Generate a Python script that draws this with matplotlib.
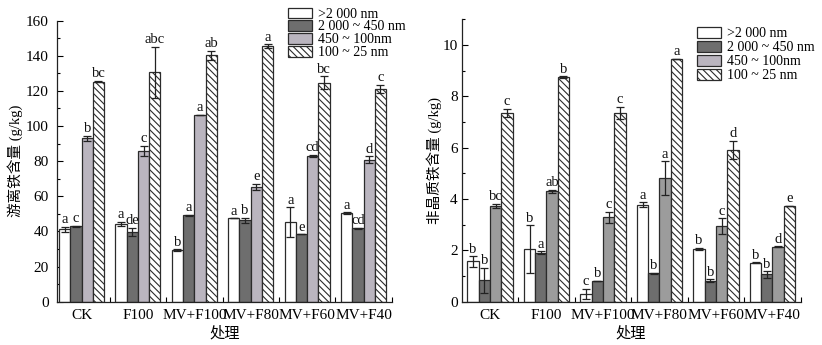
import numpy as np
import matplotlib
matplotlib.use("Agg")
import matplotlib.pyplot as plt
from matplotlib.patches import Patch
from matplotlib.ticker import MultipleLocator, FixedLocator

plt.rcParams['font.family'] = ['Liberation Serif', 'Noto Sans CJK SC', 'DejaVu Sans']
plt.rcParams['hatch.linewidth'] = 0.8
plt.rcParams['hatch.color'] = '#333333'

treatments = ['CK', 'F100', 'MV+F100', 'MV+F80', 'MV+F60', 'MV+F40']
fractions = ['>2 000 nm', '2 000 ~ 450 nm', '450 ~ 100nm', '100 ~ 25 nm']

# Free iron (g/kg): rows = size fraction, columns = treatment
free_mean = [
    [41.2, 44.2, 29.4, 47.5, 45.3, 50.4],
    [42.8, 39.8, 49.1, 46.4, 38.4, 41.9],
    [92.9, 85.8, 106.5, 65.2, 83.1, 80.9],
    [125.2, 130.5, 140.1, 145.4, 124.6, 121.1],
]
free_err = [
    [1.5, 1.3, 0.4, 0.0, 8.3, 0.5],
    [0.4, 2.2, 0.4, 1.5, 0.0, 0.3],
    [1.6, 3.0, 0.0, 1.8, 0.5, 1.8],
    [0.3, 14.6, 2.6, 1.0, 3.6, 2.4],
]
free_sig = [
    ['a', 'a', 'b', 'a', 'a', 'a'],
    ['c', 'de', 'a', 'b', 'e', 'cd'],
    ['b', 'c', 'a', 'e', 'cd', 'd'],
    ['bc', 'abc', 'ab', 'a', 'bc', 'c'],
]

# Amorphous iron (g/kg)
amor_mean = [
    [1.57, 2.04, 0.30, 3.77, 2.06, 1.52],
    [0.83, 1.90, 0.80, 1.10, 0.82, 1.06],
    [3.73, 4.30, 3.29, 4.81, 2.95, 2.14],
    [7.36, 8.75, 7.36, 9.47, 5.91, 3.73],
]
amor_err = [
    [0.20, 0.93, 0.19, 0.10, 0.03, 0.01],
    [0.50, 0.06, 0.01, 0.02, 0.05, 0.12],
    [0.07, 0.07, 0.22, 0.66, 0.30, 0.02],
    [0.15, 0.03, 0.23, 0.00, 0.36, 0.00],
]
amor_sig = [
    ['b', 'b', 'c', 'a', 'b', 'b'],
    ['b', 'a', 'b', 'b', 'b', 'b'],
    ['bc', 'ab', 'c', 'a', 'c', 'd'],
    ['c', 'b', 'c', 'a', 'd', 'e'],
]

W, H = 822, 345
fig = plt.figure(figsize=(W / 100, H / 100), dpi=100)

edge = '#2b2b2b'
hatch = '\\\\\\\\\\'
styles_left = [
    dict(facecolor='white', hatch=None),
    dict(facecolor='#6e6e6e', hatch=None),
    dict(facecolor='#bab5bf', hatch=None),
    dict(facecolor='white', hatch=hatch),
]
styles_right = [
    dict(facecolor='white', hatch=None),
    dict(facecolor='#6e6e6e', hatch=None),
    dict(facecolor='#9c9c9c', hatch=None),
    dict(facecolor='white', hatch=hatch),
]
legend_styles = styles_left


def panel(rect, means, errs, sigs, ymax, ystep, yminor, ylim_top, xlim, ylabel,
          styles, ypad, ylabelpad, leg_anchor, leg_spacing):
    ax = fig.add_axes(rect)
    x = np.arange(len(treatments))
    w = 0.2
    for k in range(4):
        pos = x + (k - 1.5) * w
        ax.bar(pos, means[k], width=w, edgecolor=edge, linewidth=0.9,
               zorder=2, **styles[k])
        ax.errorbar(pos, means[k], yerr=errs[k], fmt='none', ecolor='#222222',
                    elinewidth=0.9, capsize=3, capthick=0.9, zorder=3)
        for xi, m, e, s in zip(pos, means[k], errs[k], sigs[k]):
            ax.annotate(s, (xi, m + e), xytext=(0, 0.5), textcoords='offset points',
                        ha='center', va='bottom', fontsize=10.5, color='#111111')
    ax.set_xlim(*xlim)
    ax.set_ylim(0, ylim_top)
    ax.set_xticks(x)
    ax.set_xticklabels(treatments, fontsize=11)
    ax.xaxis.set_minor_locator(FixedLocator(np.arange(0.5, 6.0, 1.0)))
    ax.tick_params(axis='x', which='major', length=0, pad=5)
    ax.tick_params(axis='x', which='minor', direction='in', length=3.5, width=0.8)
    ax.set_yticks(np.arange(0, ymax + 0.001, ystep))
    ax.yaxis.set_minor_locator(MultipleLocator(yminor))
    ax.tick_params(axis='y', which='major', direction='in', length=4, width=0.8,
                   labelsize=11, pad=ypad)
    ax.tick_params(axis='y', which='minor', direction='in', length=2, width=0.8)
    for sp in ('top', 'right'):
        ax.spines[sp].set_visible(False)
    for sp in ('left', 'bottom'):
        ax.spines[sp].set_linewidth(0.9)
        ax.spines[sp].set_color('#222222')
    ax.set_xlabel('处理', fontsize=11, labelpad=3)
    ax.set_ylabel(ylabel, fontsize=10.5, labelpad=ylabelpad)
    handles = [Patch(edgecolor=edge, linewidth=0.9, **s) for s in legend_styles]
    fig.legend(handles, fractions, loc='upper left', bbox_to_anchor=leg_anchor,
               bbox_transform=fig.transFigure, frameon=False, fontsize=10,
               handlelength=1.75, handleheight=0.8, handletextpad=0.4,
               labelspacing=leg_spacing, borderpad=0, borderaxespad=0)
    return ax


panel([57.3 / W, 1 - 301.7 / H, (391.7 - 57.3) / W, (301.7 - 20.5) / H],
      free_mean, free_err, free_sig, 160, 20, 10, 160, (-0.43, 5.5),
      '游离铁含量 (g/kg)', styles_left, 6, 2, (288 / W, 1 - 7.5 / H), -0.02)

panel([461.7 / W, 1 - 301.7 / H, (800.7 - 461.7) / W, (301.7 - 19.3) / H],
      amor_mean, amor_err, amor_sig, 10, 2, 1, 11, (-0.5, 5.5),
      '非晶质铁含量 (g/kg)', styles_right, 3, 0, (697 / W, 1 - 27 / H), 0.06)

fig.savefig('out.png', dpi=100)
